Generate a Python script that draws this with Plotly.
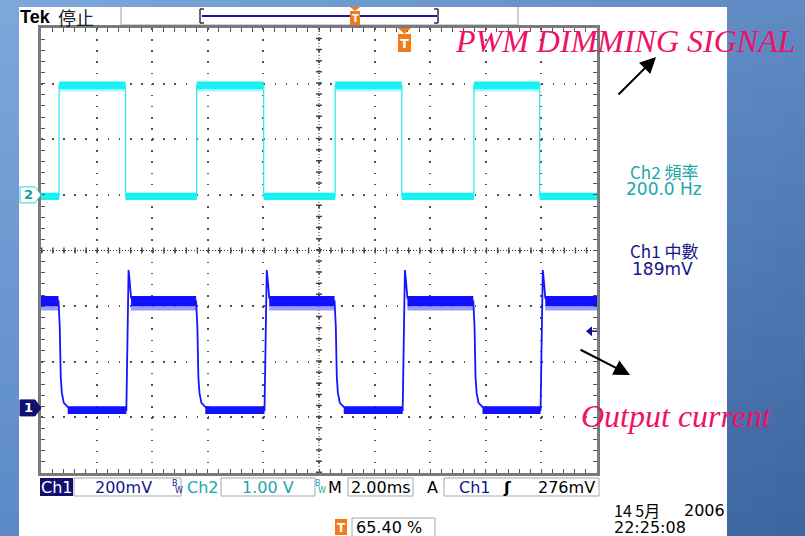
import plotly.graph_objects as go

W, H = 805, 536
ML, MR, MT, MB = 41, 208, 28, 63
PW = W - ML - MR
PH = H - MT - MB


def X(px):
    return (px - ML) / PW


def Y(py):
    return (H - MB - py) / PH


# ---------------- data (time in ms, 2 ms/div; amplitude in divisions) ----------------
t_range = [-10, 10]
v_range = [-4, 4]
ch2_rise_ms = [-9.35, -4.40, 0.58, 5.57]
ch2_fall_ms = [-6.96, -1.99, 2.98, 7.94]
ch2_low = 0.97
ch2_high = 2.97
ch2_low_band = [0.91, 1.04]
ch2_high_band = [2.90, 3.04]
ch2_high_fringe = [2.86, 2.90]

ch1_high = -0.91
ch1_low = -2.87
ch1_high_band = [-1.00, -0.82]
ch1_high_fringe = [-1.08, -1.00]
ch1_low_band = [-2.94, -2.80]
ch1_fall_dt = [-0.02, 0.025, 0.06, 0.10, 0.17, 0.31, 0.46]
ch1_fall_v = [-0.91, -1.37, -2.27, -2.56, -2.74, -2.81, -2.87]
ch1_rise_dt = [0.03, 0.07, 0.11, 0.15, 0.20, 0.30]
ch1_rise_v = [-2.87, -1.20, -0.35, -0.55, -0.85, -0.91]

ch1_ground = -2.83
ch2_ground = 1.00
ch1_trig_level = -1.45

status_labels = ["Ch1", "200mV", "Ch2", "1.00 V", "M", "2.00ms", "A", "Ch1", "ʃ", "276mV"]
meas_ch2 = ["Ch2 頻率", "200.0 Hz"]
meas_ch1 = ["Ch1 中數", "189mV"]
date_text = ["14 5月", "2006", "22:25:08"]
trig_pos_text = "65.40\u00a0%"

# ---------------- build traces ----------------
def rects(segs, band):
    xs, ys = [], []
    for a, b in segs:
        xs += [a, b, b, a, a, None]
        ys += [band[0], band[0], band[1], band[1], band[0], None]
    return xs, ys

n = len(ch2_rise_ms)
ch2_high_segs = list(zip(ch2_rise_ms, ch2_fall_ms))
ch2_low_segs = [(t_range[0], ch2_rise_ms[0])] + \
    [(ch2_fall_ms[i], ch2_rise_ms[i + 1]) for i in range(n - 1)] + [(ch2_fall_ms[-1], t_range[1])]
ch1_high_segs = [(t_range[0], ch2_rise_ms[0] + ch1_fall_dt[0])] + \
    [(ch2_fall_ms[i] + ch1_rise_dt[-2], ch2_rise_ms[i + 1] + ch1_fall_dt[0]) for i in range(n - 1)] + \
    [(ch2_fall_ms[-1] + ch1_rise_dt[-2], t_range[1])]
ch1_low_segs = [(r + ch1_fall_dt[-2], f + ch1_rise_dt[0]) for r, f in zip(ch2_rise_ms, ch2_fall_ms)]

cx, cy = [t_range[0]], [ch2_low]
for r, f in zip(ch2_rise_ms, ch2_fall_ms):
    cx += [r, r, f, f]
    cy += [ch2_low, ch2_high, ch2_high, ch2_low]
cx.append(t_range[1]); cy.append(ch2_low)

bx, by = [t_range[0]], [ch1_high]
for r, f in zip(ch2_rise_ms, ch2_fall_ms):
    bx += [r + d for d in ch1_fall_dt]; by += ch1_fall_v
    bx += [f + d for d in ch1_rise_dt]; by += ch1_rise_v
bx.append(t_range[1]); by.append(ch1_high)

fig = go.Figure()


def band_trace(segs, band, color):
    xs, ys = rects(segs, band)
    fig.add_trace(go.Scatter(x=xs, y=ys, mode="lines", fill="toself", fillcolor=color,
                             line=dict(width=0, color=color), hoverinfo="skip", showlegend=False))


band_trace(ch2_high_segs, ch2_high_fringe, "#a6f9f9")
band_trace(ch2_high_segs, ch2_high_band, "#10f4f4")
band_trace(ch2_low_segs, ch2_low_band, "#10f4f4")
fig.add_trace(go.Scatter(x=cx, y=cy, mode="lines", line=dict(color="#30eaf0", width=1.3),
                         hoverinfo="skip", showlegend=False))
band_trace(ch1_high_segs, ch1_high_fringe, "#9a9aff")
band_trace(ch1_high_segs, ch1_high_band, "#1010ff")
band_trace(ch1_low_segs, ch1_low_band, "#1010ff")
fig.add_trace(go.Scatter(x=bx, y=by, mode="lines", line=dict(color="#1515ff", width=1.8),
                         hoverinfo="skip", showlegend=False))

# ---------------- shapes ----------------
shapes = []

# gradient background pieces
TL, TR, BL, BR = (124, 168, 218), (96, 138, 196), (92, 138, 200), (60, 100, 158)


def grad(px, py):
    u, v = px / W, py / H
    c = [TL[i] * (1 - u) * (1 - v) + TR[i] * u * (1 - v) + BL[i] * (1 - u) * v + BR[i] * u * v for i in range(3)]
    return "rgb(%d,%d,%d)" % tuple(int(round(k)) for k in c)


def prect(x0, y0, x1, y1, fill=None, line=None, lw=1, layer="below"):
    d = dict(type="rect", xref="paper", yref="paper", x0=X(x0), x1=X(x1), y0=Y(y1), y1=Y(y0),
             layer=layer, line=dict(width=lw if line else 0, color=line or "rgba(0,0,0,0)"))
    if fill:
        d["fillcolor"] = fill
    shapes.append(d)


rows = 24
for j in range(rows):
    y0, y1 = H * j / rows, H * (j + 1) / rows
    prect(0, y0, 19.5, y1 + 0.5, fill=grad(10, (y0 + y1) / 2))
    for k in range(3):
        x0 = 727 + k * 26
        prect(x0 - 0.5, y0, x0 + 26.5, y1 + 0.5, fill=grad(x0 + 13, (y0 + y1) / 2))
for k in range(16):
    x0 = 19 + k * 44.25
    prect(x0 - 0.5, 0, x0 + 44.75, 7.5, fill=grad(x0 + 22, 3))
prect(19, 7, 727, H + 2, fill="white")


def pline(x0, y0, x1, y1, color, w=1, dash=None, layer="above"):
    d = dict(type="line", xref="paper", yref="paper", x0=X(x0), y0=Y(y0), x1=X(x1), y1=Y(y1),
             line=dict(color=color, width=w), layer=layer)
    if dash:
        d["line"]["dash"] = dash
    shapes.append(d)


def ppath(pts, fill, line=None, layer="above"):
    p = "M" + "L".join("%.5f,%.5f" % (X(a), Y(b)) for a, b in pts) + "Z"
    shapes.append(dict(type="path", xref="paper", yref="paper", path=p, fillcolor=fill,
                       line=dict(width=1 if line else 0, color=line or fill), layer=layer))


# header box
pline(121, 7, 121, 25, "#a0a0a0", 1, layer="below")
pline(518, 7, 518, 25, "#a0a0a0", 1, layer="below")
pline(121, 25, 518, 25, "#a0a0a0", 1, layer="below")
# record bar
pline(202, 16, 437, 16, "#1a1aa0", 2)
pline(200, 9, 200, 23, "#333", 1.5); pline(200, 9, 204, 9, "#333", 1.5); pline(200, 23, 204, 23, "#333", 1.5)
pline(438, 9, 438, 23, "#333", 1.5); pline(438, 9, 434, 9, "#333", 1.5); pline(438, 23, 434, 23, "#333", 1.5)

ORANGE = "#f27a1a"
# trigger position icons
ppath([(350, 7), (360, 7), (355, 11)], ORANGE)
shapes.append(dict(type="rect", xref="paper", yref="paper", x0=X(350), x1=X(360), y0=Y(25), y1=Y(11),
                   fillcolor=ORANGE, line=dict(width=0), layer="above"))
ppath([(398, 28), (411, 28), (404.5, 34)], ORANGE)
shapes.append(dict(type="rect", xref="paper", yref="paper", x0=X(398), x1=X(411), y0=Y(52), y1=Y(34),
                   fillcolor=ORANGE, line=dict(width=0), layer="above"))
shapes.append(dict(type="rect", xref="paper", yref="paper", x0=X(335), x1=X(347), y0=Y(535), y1=Y(519),
                   fillcolor=ORANGE, line=dict(width=0), layer="above"))

# center cross of graticule (dotted line + tick marks every 0.2 div)
sub = PW / 50.0
shapes.append(dict(type="line", xref="x", yref="y", x0=t_range[0], x1=t_range[1], y0=0, y1=0,
                   line=dict(color="#333", width=1, dash="1px,2px"), layer="below"))
shapes.append(dict(type="line", xref="x", yref="y", x0=0, x1=0, y0=v_range[0], y1=v_range[1],
                   line=dict(color="#333", width=1, dash="1px,2px"), layer="below"))
shapes.append(dict(type="line", xref="x", yref="y", x0=t_range[0], x1=t_range[1], y0=0, y1=0,
                   line=dict(color="#444", width=6, dash="1.4px,%.3fpx" % (sub - 1.4)), layer="below"))
shapes.append(dict(type="line", xref="x", yref="y", x0=0, x1=0, y0=v_range[0], y1=v_range[1],
                   line=dict(color="#444", width=6, dash="1.4px,%.3fpx" % (PH / 40.0 - 1.4)), layer="below"))

# channel ground markers
def marker_path(yc, fill, line):
    yp = H - MB - (yc - v_range[0]) / (v_range[1] - v_range[0]) * PH
    ppath([(20, yp - 8), (35, yp - 8), (41, yp), (35, yp + 8), (20, yp + 8)], fill, line)
    return yp


y2m = marker_path(ch2_ground, "white", "#30d0d8")
y1m = marker_path(ch1_ground, "#101070", "#101070")
# ch1 trigger level marker
ytl = H - MB - (ch1_trig_level - v_range[0]) / (v_range[1] - v_range[0]) * PH
ppath([(586, ytl), (592, ytl - 5), (592, ytl + 5)], "#101090")
pline(592, ytl, 597, ytl, "#101090", 1.5)

# status bar boxes
prect(40, 478, 73, 496, fill="#101070", layer="above")
for a, b in [(74, 181), (221, 315), (348, 413), (444, 599)]:
    prect(a, 478, b, 496, fill=None, line="#a8a8a8", lw=1, layer="above")
prect(352, 518, 435, 537, fill=None, line="#a8a8a8", lw=1, layer="above")

# ---------------- annotations ----------------
ann = []


def txt(s, px, py, size, color, anchor="center", family="DejaVu Sans"):
    ann.append(dict(text=s, x=X(px), y=Y(py), xref="paper", yref="paper", showarrow=False,
                    xanchor=anchor, yanchor="middle", font=dict(family=family, size=size, color=color)))


txt("<b>Tek</b>", 18, 17, 18, "black", "left", "Liberation Sans")
txt("停止", 56, 17, 18, "#222", "left", "Noto Sans CJK TC")
txt("<b>T</b>", 355, 18.5, 10, "white")
txt("<b>T</b>", 404.5, 43.5, 13, "white")
txt("<b>T</b>", 341, 527.5, 12, "white")
txt("<b>2</b>", 28, y2m, 13, "#1a9aa0")
txt("<b>1</b>", 28, y1m, 13, "white")

txt("<i>PWM DIMMING SIGNAL</i>", 453, 41, 32, "#ee1166", "left", "Liberation Serif")
txt("<i>Output current</i>", 579, 416, 32, "#ee1166", "left", "Liberation Serif")

TEAL = "#1aa6aa"
NAVY = "#16168c"
txt(meas_ch2[0], 664, 171, 17, TEAL, "center", "Noto Sans CJK TC")
txt(meas_ch2[1], 664, 189, 17, TEAL)
txt(meas_ch1[0], 664, 251, 17, NAVY, "center", "Noto Sans CJK TC")
txt(meas_ch1[1], 662, 269, 17, NAVY)

yb = 487.5
txt(status_labels[0], 56.5, yb, 16, "white")
txt(status_labels[1], 123, yb, 16, NAVY)
txt("B", 175, 483, 8, NAVY)
txt("W", 179, 490, 8, NAVY)
txt(status_labels[2], 203, yb, 16, TEAL)
txt(status_labels[3], 268, yb, 16, TEAL)
txt("B", 318, 483, 8, TEAL)
txt("W", 322, 490, 8, TEAL)
txt(status_labels[4], 335, yb, 16, "black")
txt(status_labels[5], 380.5, yb, 16, "black")
txt(status_labels[6], 433, yb, 16, "black")
txt(status_labels[7], 475, yb, 16, NAVY)
txt("<b>" + status_labels[8] + "</b>", 507, yb, 16, "black")
txt(status_labels[9], 566, yb, 16, "black")

txt(date_text[0], 612, 510, 16, "black", "left", "Noto Sans CJK TC")
txt(date_text[1], 727, 510, 16, "black", "right")
txt(date_text[2], 612, 527, 16, "black", "left")
txt(trig_pos_text, 354, 527, 16, "black", "left")

# arrows
ann.append(dict(x=X(656), y=Y(57), xref="paper", yref="paper", ax=-39, ay=39, text="",
                showarrow=True, arrowhead=2, arrowsize=1.6, arrowwidth=2, arrowcolor="black"))
ann.append(dict(x=X(630), y=Y(375), xref="paper", yref="paper", ax=-51, ay=-26, text="",
                showarrow=True, arrowhead=2, arrowsize=1.6, arrowwidth=2, arrowcolor="black"))

axis_common = dict(showticklabels=False, showline=True, linecolor="#7a7a7a", linewidth=3,
                   mirror="allticks", ticks="inside", ticklen=4, tickcolor="#555", tickwidth=1,
                   showgrid=True, gridcolor="#505050", gridwidth=1.6, zeroline=False,
                   layer="above traces", fixedrange=True)

fig.update_layout(
    width=W, height=H,
    margin=dict(l=ML, r=MR, t=MT, b=MB, pad=0),
    paper_bgcolor="rgb(96,138,196)",
    plot_bgcolor="rgba(0,0,0,0)",
    xaxis=dict(range=t_range, dtick=2, tick0=0, griddash="1.6px,%.3fpx" % (PH / 40.0 - 1.6),
               minor=dict(dtick=0.4, ticks="inside", ticklen=4, tickcolor="#555", showgrid=False),
               **axis_common),
    yaxis=dict(range=v_range, dtick=1, tick0=0, griddash="1.6px,%.3fpx" % (sub - 1.6),
               minor=dict(dtick=0.2, ticks="inside", ticklen=4, tickcolor="#555", showgrid=False),
               **axis_common),
    shapes=shapes,
    annotations=ann,
    showlegend=False,
)

fig.write_html("out.html", config={"displayModeBar": False},
               post_script="document.body.style.margin='0';document.body.style.padding='0';")
